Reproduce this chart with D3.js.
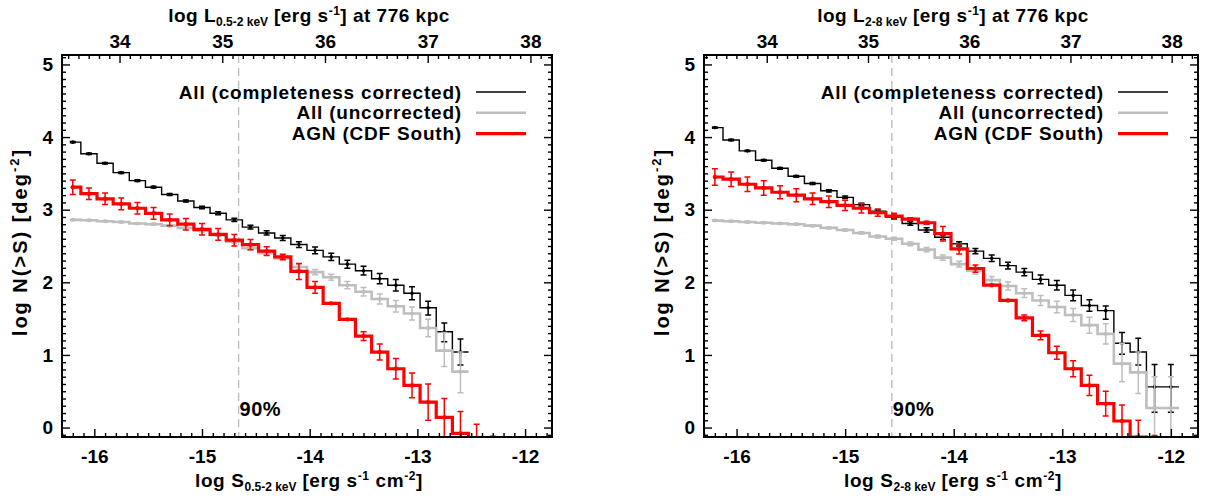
<!DOCTYPE html>
<html>
<head>
<meta charset="utf-8">
<script src="https://cdn.jsdelivr.net/npm/d3@7"></script>
<style>
  html, body { margin: 0; padding: 0; background: #fff; }
  svg { display: block; font-family: "Liberation Sans", Arial, sans-serif; font-weight: bold; }
</style>
</head>
<body>
<svg id="chart" width="1206" height="498"></svg>
<script>
// bin centres in log S (same grid for both bands)
const fluxBins = [-16.2, -16.05, -15.9, -15.75, -15.6, -15.45, -15.3, -15.15, -15.0, -14.85,
  -14.7, -14.55, -14.4, -14.25, -14.1, -13.95, -13.8, -13.65, -13.5, -13.35,
  -13.2, -13.05, -12.9, -12.75, -12.6, -12.45, -12.3, -12.15, -12.0];

const xTicks = [-16, -15, -14, -13, -12];
const yTicks = [0, 1, 2, 3, 4, 5];
const lumTicks = [34, 35, 36, 37, 38];

const legendLabels = ["All (completeness corrected)", "All (uncorrected)", "AGN (CDF South)"];

// ---- 0.5-2 keV ----
const softAll = [3.93, 3.77, 3.64, 3.51, 3.40, 3.31, 3.21, 3.12, 3.03, 2.95, 2.86, 2.76, 2.68, 2.61,
  2.52, 2.44, 2.35, 2.25, 2.16, 2.05, 1.96, 1.85, 1.65, 1.32, 1.04];
const softAllUp = [0.01, 0.01, 0.01, 0.01, 0.012, 0.012, 0.013, 0.015, 0.017, 0.02, 0.022, 0.025, 0.03, 0.035,
  0.04, 0.045, 0.05, 0.055, 0.06, 0.07, 0.08, 0.09, 0.09, 0.12, 0.18];
const softAllDn = [0.01, 0.01, 0.01, 0.01, 0.012, 0.012, 0.013, 0.015, 0.017, 0.02, 0.022, 0.025, 0.03, 0.035,
  0.04, 0.045, 0.05, 0.055, 0.06, 0.07, 0.08, 0.09, 0.10, 0.14, 0.18];

const softRaw = [2.86, 2.855, 2.84, 2.83, 2.81, 2.80, 2.78, 2.75, 2.71, 2.65, 2.56, 2.47, 2.40, 2.33,
  2.21, 2.14, 2.07, 1.96, 1.87, 1.77, 1.67, 1.57, 1.37, 1.06, 0.77];
const softRawUp = [0.01, 0.01, 0.01, 0.01, 0.01, 0.012, 0.012, 0.013, 0.015, 0.015, 0.02, 0.022, 0.025, 0.03,
  0.035, 0.035, 0.04, 0.05, 0.06, 0.07, 0.08, 0.09, 0.12, 0.25, 0.27];
const softRawDn = [0.01, 0.01, 0.01, 0.01, 0.01, 0.012, 0.012, 0.013, 0.015, 0.015, 0.02, 0.022, 0.025, 0.03,
  0.035, 0.035, 0.04, 0.05, 0.06, 0.07, 0.08, 0.09, 0.12, 0.22, 0.29];

const softAgn = [3.31, 3.22, 3.15, 3.08, 3.02, 2.95, 2.86, 2.80, 2.73, 2.66, 2.58, 2.52, 2.43, 2.35,
  2.15, 1.93, 1.71, 1.49, 1.26, 1.04, 0.81, 0.58, 0.35, 0.14, -0.08, -0.6, -0.7];
const softAgnUp = [0.1, 0.08, 0.08, 0.08, 0.08, 0.08, 0.08, 0.08, 0.08, 0.08, 0.08, 0.07, 0.06, 0.035,
  0.11, 0.08, 0, 0, 0.06, 0.11, 0.14, 0.17, 0.25, 0.26, 0.3, 0.645, 0.58];
const softAgnDn = [0.1, 0.08, 0.08, 0.08, 0.08, 0.08, 0.08, 0.08, 0.08, 0.08, 0.08, 0.07, 0.06, 0.035,
  0.11, 0.08, 0, 0, 0.06, 0.11, 0.14, 0.17, 0.25, 0.6, 0.6, 0, 0];

// ---- 2-8 keV ----
const hardAll = [4.13, 3.96, 3.81, 3.68, 3.57, 3.46, 3.36, 3.26, 3.17, 3.07, 2.98, 2.90, 2.81, 2.72,
  2.62, 2.53, 2.43, 2.33, 2.23, 2.14, 2.04, 1.96, 1.82, 1.68, 1.61, 1.16, 1.04, 0.56, 0.56];
const hardAllUp = [0.01, 0.01, 0.01, 0.01, 0.012, 0.012, 0.013, 0.015, 0.017, 0.02, 0.02, 0.022, 0.025, 0.03,
  0.03, 0.03, 0.035, 0.045, 0.045, 0.05, 0.06, 0.065, 0.075, 0.08, 0.065, 0.15, 0.19, 0.31, 0.31];
const hardAllDn = [0.01, 0.01, 0.01, 0.01, 0.012, 0.012, 0.013, 0.015, 0.017, 0.02, 0.02, 0.022, 0.025, 0.03,
  0.03, 0.03, 0.035, 0.045, 0.045, 0.05, 0.06, 0.065, 0.075, 0.08, 0.12, 0.15, 0.18, 0.35, 0.35];

const hardRaw = [2.85, 2.84, 2.83, 2.82, 2.81, 2.80, 2.78, 2.75, 2.72, 2.68, 2.63, 2.60, 2.53, 2.45,
  2.34, 2.25, 2.16, 2.03, 1.95, 1.85, 1.75, 1.66, 1.55, 1.41, 1.29, 0.88, 0.76, 0.27, 0.27];
const hardRawUp = [0.01, 0.01, 0.01, 0.01, 0.01, 0.012, 0.012, 0.013, 0.015, 0.015, 0.02, 0.022, 0.025, 0.03,
  0.035, 0.04, 0.045, 0.05, 0.055, 0.06, 0.07, 0.08, 0.09, 0.11, 0.14, 0.28, 0.28, 0.43, 0.43];
const hardRawDn = [0.01, 0.01, 0.01, 0.01, 0.01, 0.012, 0.012, 0.013, 0.015, 0.015, 0.02, 0.022, 0.025, 0.03,
  0.035, 0.04, 0.045, 0.05, 0.055, 0.06, 0.07, 0.08, 0.09, 0.11, 0.14, 0.25, 0.29, 1.0, 1.0];

const hardAgn = [3.45, 3.42, 3.35, 3.30, 3.24, 3.20, 3.15, 3.11, 3.06, 3.02, 2.96, 2.91, 2.87, 2.82,
  2.67, 2.46, 2.19, 1.96, 1.75, 1.51, 1.27, 1.03, 0.81, 0.58, 0.33, 0.09, -0.13, -0.6];
const hardAgnUp = [0.115, 0.1, 0.1, 0.1, 0.09, 0.09, 0.08, 0.08, 0.07, 0.065, 0.05, 0.04, 0.02, 0.02,
  0.1, 0.07, 0.05, 0, 0, 0.04, 0.06, 0.09, 0.11, 0.14, 0.17, 0.22, 0.23, 0.49];
const hardAgnDn = [0.115, 0.1, 0.1, 0.1, 0.09, 0.09, 0.08, 0.08, 0.07, 0.065, 0.05, 0.04, 0.02, 0.02,
  0.1, 0.07, 0.05, 0, 0, 0.04, 0.06, 0.09, 0.11, 0.14, 0.17, 0.3, 0.5, 0];

const panels = [
  {
    band: "0.5-2 keV",
    frame: { left: 62, right: 552, top: 55, bottom: 437 },
    lumDomain: [33.44, 38.21],
    limit: -14.66,
    series: [
      { v: softAll, up: softAllUp, dn: softAllDn, color: "#000000", width: 1.4, dot: 1.8 },
      { v: softRaw, up: softRawUp, dn: softRawDn, color: "#bebebe", width: 2.6, dot: 2.0 },
      { v: softAgn, up: softAgnUp, dn: softAgnDn, color: "#ff0000", width: 3.2, dot: 2.2 }
    ]
  },
  {
    band: "2-8 keV",
    frame: { left: 704, right: 1198, top: 55, bottom: 437 },
    lumDomain: [33.38, 38.26],
    limit: -14.57,
    series: [
      { v: hardAll, up: hardAllUp, dn: hardAllDn, color: "#000000", width: 1.4, dot: 1.8 },
      { v: hardRaw, up: hardRawUp, dn: hardRawDn, color: "#bebebe", width: 2.6, dot: 2.0 },
      { v: hardAgn, up: hardAgnUp, dn: hardAgnDn, color: "#ff0000", width: 3.2, dot: 2.2 }
    ]
  }
];

const svg = d3.select("#chart");

panels.forEach((p, i) => drawPanel(p, i));

function stepPoints(xs, ys) {
  const pts = [[xs[0], ys[0]]];
  for (let i = 0; i < ys.length - 1; i++) {
    const mid = (xs[i] + xs[i + 1]) / 2;
    pts.push([mid, ys[i]], [mid, ys[i + 1]]);
  }
  const n = ys.length - 1;
  pts.push([xs[n] + (xs[n] - xs[n - 1]) / 2, ys[n]]);
  return pts;
}

function minorTicks(lo, hi, majors) {
  const out = [];
  for (let t = Math.ceil(lo * 10); t <= Math.floor(hi * 10); t++) {
    const v = t / 10;
    if (!majors.some((m) => Math.abs(m - v) < 1e-6)) out.push(v);
  }
  return out;
}

function drawPanel(p, idx) {
  const f = p.frame;
  const x = d3.scaleLinear().domain([-16.3, -11.75]).range([f.left, f.right]);
  const y = d3.scaleLinear().domain([-0.13, 5.13]).range([f.bottom, f.top]);
  const xl = d3.scaleLinear().domain(p.lumDomain).range([f.left, f.right]);

  const g = svg.append("g");
  const clipId = "clip" + idx;
  g.append("clipPath").attr("id", clipId)
    .append("rect")
    .attr("x", f.left).attr("y", f.top)
    .attr("width", f.right - f.left).attr("height", f.bottom - f.top);

  // completeness limit
  g.append("line")
    .attr("x1", x(p.limit)).attr("x2", x(p.limit))
    .attr("y1", f.top).attr("y2", f.bottom)
    .attr("stroke", "#bbbbbb").attr("stroke-width", 1.3)
    .attr("stroke-dasharray", "8,5");

  g.append("text")
    .attr("x", x(p.limit) + 1).attr("y", 416)
    .attr("font-size", 20).attr("letter-spacing", 0.5).text("90%");

  const data = g.append("g").attr("clip-path", `url(#${clipId})`);
  const line = d3.line().x((d) => x(d[0])).y((d) => y(d[1]));

  for (const s of p.series) {
    const xs = fluxBins.slice(0, s.v.length);
    const sg = data.append("g");
    sg.append("path")
      .attr("d", line(stepPoints(xs, s.v)))
      .attr("fill", "none")
      .attr("stroke", s.color)
      .attr("stroke-width", s.width)
      .attr("stroke-linejoin", "miter");

    const bars = sg.selectAll(".eb")
      .data(s.v.map((v, k) => ({ x: xs[k], v, up: s.up[k], dn: s.dn[k] })))
      .join("g");
    bars.filter((d) => d.up + d.dn > 0).append("path")
      .attr("d", (d) => {
        const cx = x(d.x), y1 = y(d.v + d.up), y2 = y(d.v - d.dn);
        return `M${cx},${y1}V${y2}M${cx - 3},${y1}H${cx + 3}M${cx - 3},${y2}H${cx + 3}`;
      })
      .attr("fill", "none")
      .attr("stroke", s.color)
      .attr("stroke-width", 1.5);
    bars.append("circle")
      .attr("cx", (d) => x(d.x)).attr("cy", (d) => y(d.v))
      .attr("r", s.dot).attr("fill", s.color);
  }

  // frame
  g.append("rect")
    .attr("x", f.left).attr("y", f.top)
    .attr("width", f.right - f.left).attr("height", f.bottom - f.top)
    .attr("fill", "none").attr("stroke", "#000").attr("stroke-width", 2);

  const styleAxis = (sel) => {
    sel.select(".domain").remove();
    sel.selectAll(".tick line").attr("stroke", "#000").attr("stroke-width", 1.4);
    sel.selectAll(".tick text").attr("font-size", 19).attr("fill", "#000")
      .attr("font-family", "'Liberation Sans', Arial, sans-serif").attr("font-weight", "bold");
  };

  const fmt = (d) => String(d);

  // bottom
  g.append("g").attr("transform", `translate(0,${f.bottom})`)
    .call(d3.axisBottom(x).tickValues(xTicks).tickSize(-8).tickPadding(13).tickFormat(fmt))
    .call(styleAxis);
  g.append("g").attr("transform", `translate(0,${f.bottom})`)
    .call(d3.axisBottom(x).tickValues(minorTicks(-16.3, -11.75, xTicks)).tickSize(-4).tickFormat(""))
    .call(styleAxis);

  // top (luminosity)
  g.append("g").attr("transform", `translate(0,${f.top})`)
    .call(d3.axisTop(xl).tickValues(lumTicks).tickSize(-8).tickPadding(7.5).tickFormat(fmt))
    .call(styleAxis);
  g.append("g").attr("transform", `translate(0,${f.top})`)
    .call(d3.axisTop(xl).tickValues(minorTicks(p.lumDomain[0], p.lumDomain[1], lumTicks)).tickSize(-4).tickFormat(""))
    .call(styleAxis);

  // left / right
  g.append("g").attr("transform", `translate(${f.left},0)`)
    .call(d3.axisLeft(y).tickValues(yTicks).tickSize(-8).tickPadding(9).tickFormat(fmt))
    .call(styleAxis);
  g.append("g").attr("transform", `translate(${f.left},0)`)
    .call(d3.axisLeft(y).tickValues(minorTicks(-0.13, 5.13, yTicks)).tickSize(-4).tickFormat(""))
    .call(styleAxis);
  g.append("g").attr("transform", `translate(${f.right},0)`)
    .call(d3.axisRight(y).tickValues(yTicks).tickSize(-8).tickFormat(""))
    .call(styleAxis);
  g.append("g").attr("transform", `translate(${f.right},0)`)
    .call(d3.axisRight(y).tickValues(minorTicks(-0.13, 5.13, yTicks)).tickSize(-4).tickFormat(""))
    .call(styleAxis);

  const cx = (f.left + f.right) / 2;

  // top title
  const tt = g.append("text").attr("x", cx + 2).attr("y", 22)
    .attr("text-anchor", "middle").attr("font-size", 19).attr("letter-spacing", 0.5);
  tt.append("tspan").text("log L");
  tt.append("tspan").attr("font-size", 12).attr("letter-spacing", 0).attr("dy", 4).text(p.band);
  tt.append("tspan").attr("dy", -4).text(" [erg s");
  tt.append("tspan").attr("font-size", 12).attr("dy", -7).text("-1");
  tt.append("tspan").attr("dy", 7).text("] at 776 kpc");

  // bottom title
  const bt = g.append("text").attr("x", cx + 2).attr("y", 487)
    .attr("text-anchor", "middle").attr("font-size", 19).attr("letter-spacing", 0.6);
  bt.append("tspan").text("log S");
  bt.append("tspan").attr("font-size", 12).attr("letter-spacing", 0).attr("dy", 4).text(p.band);
  bt.append("tspan").attr("dy", -4).text(" [erg s");
  bt.append("tspan").attr("font-size", 12).attr("dy", -7).text("-1");
  bt.append("tspan").attr("dy", 7).text(" cm");
  bt.append("tspan").attr("font-size", 12).attr("dy", -7).text("-2");
  bt.append("tspan").attr("dy", 7).text("]");

  // y title
  const yt = g.append("text")
    .attr("transform", `translate(${f.left - 35},${(f.top + f.bottom) / 2 - 4}) rotate(-90)`)
    .attr("text-anchor", "middle").attr("font-size", 20).attr("letter-spacing", 2);
  yt.append("tspan").text("log N(>S) [deg");
  yt.append("tspan").attr("font-size", 13).attr("dy", -8).text("-2");
  yt.append("tspan").attr("dy", 8).text("]");

  // legend
  const lg = g.append("g");
  p.series.forEach((s, k) => {
    const ly = 92 + k * 20.8;
    lg.append("text")
      .attr("x", f.left + 400).attr("y", ly + 6.5)
      .attr("text-anchor", "end").attr("font-size", 19).attr("letter-spacing", 0.8)
      .text(legendLabels[k]);
    lg.append("line")
      .attr("x1", f.left + 414).attr("x2", f.left + 464)
      .attr("y1", ly).attr("y2", ly)
      .attr("stroke", s.color).attr("stroke-width", s.width);
  });
}
</script>
</body>
</html>
